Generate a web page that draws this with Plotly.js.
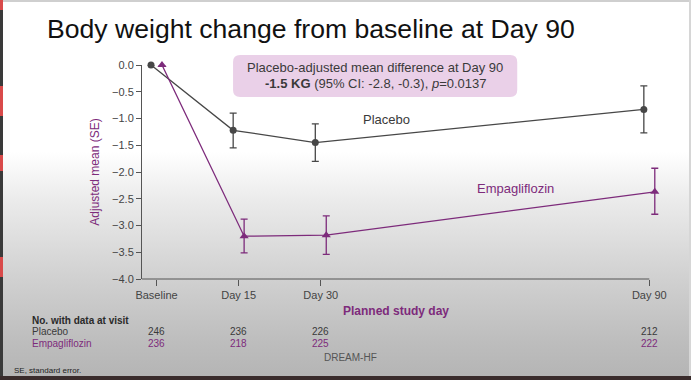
<!DOCTYPE html>
<html>
<head>
<meta charset="utf-8">
<script src="https://cdn.plot.ly/plotly-3.0.1.min.js"></script>
<style>
  html, body { margin:0; padding:0; }
  body { width:691px; height:380px; overflow:hidden; position:relative;
    background: linear-gradient(to bottom, #ffffff 0%, #ffffff 40%, #ececec 52%, #d2d2d2 72%, #bdbdbd 90%, #b4b4b4 100%); }
  #chart { position:absolute; left:0; top:0; width:691px; height:380px; }
  .edge { position:absolute; }
</style>
</head>
<body>
<div id="chart"></div>
<div class="edge" style="left:0;top:0;width:691px;height:2px;background:#cfcfcf"></div>
<div class="edge" style="left:0;top:0;width:3px;height:380px;background:#3a3a3a"></div>
<div class="edge" style="left:0;top:0;width:3px;height:10px;background:#d94a4a"></div>
<div class="edge" style="left:0;top:86px;width:3px;height:30px;background:#d94a4a"></div>
<div class="edge" style="left:0;top:155px;width:3px;height:16px;background:#d94a4a"></div>
<div class="edge" style="left:0;top:257px;width:3px;height:20px;background:#d94a4a"></div>
<div class="edge" style="left:689px;top:0;width:2px;height:380px;background:#d6d6d6"></div>
<div class="edge" style="left:0;top:376px;width:691px;height:4px;background:#3a2c2c"></div>
<script>
// ---- data ----
const days = [0, 15, 30, 90];
const tickLabels = ["Baseline", "Day 15", "Day 30", "Day 90"];
const seriesNames = ["Placebo", "Empagliflozin"];
const placeboMean  = [0, -1.22, -1.45, -0.83];
const placeboUpper = [0, -0.90, -1.10, -0.39];
const placeboLower = [0, -1.55, -1.80, -1.27];
const empaMean  = [0, -3.20, -3.18, -2.37];
const empaUpper = [0, -2.88, -2.82, -1.93];
const empaLower = [0, -3.51, -3.54, -2.79];
const placeboN = [246, 236, 226, 212];
const empaN    = [236, 218, 225, 222];

// ---- styling ----
const GRAY = '#474747';
const PURPLE = '#7d2b7b';
const OFFSET = 1.0;  // horizontal dodge in days
const FONT = 'Liberation Sans, Arial, sans-serif';

const XMIN = -2.65, XMAX = 92.5;          // axis range in days
const L = 142, T = 65, B = 279;
const PXPERDAY = (649 - 156.5) / 90;
const R = L + (XMAX - XMIN) * PXPERDAY;    // right edge of plot area in px
const px = v => (v - L) / (R - L);
const py = v => (B - v) / (B - T);

function trace(name, mean, up, lo, dodge, color, symbol, size) {
  return {
    type: 'scatter', mode: 'lines+markers', name: name,
    x: days.map(d => d + dodge), y: mean,
    line: {color: color, width: 1.3},
    marker: {color: color, symbol: symbol, size: size},
    error_y: {type: 'data', symmetric: false,
      array: up.map((u, i) => u - mean[i]),
      arrayminus: mean.map((m, i) => m - lo[i]),
      color: color, thickness: 1.3, width: 3.5},
    cliponaxis: false, showlegend: false, hoverinfo: 'skip'
  };
}

const data = [
  trace(seriesNames[0], placeboMean, placeboUpper, placeboLower, -OFFSET, GRAY, 'circle', 7),
  trace(seriesNames[1], empaMean, empaUpper, empaLower, OFFSET, PURPLE, 'triangle-up', 8)
];

const annotations = [];
function ann(text, x, y, opts) {
  annotations.push(Object.assign({text: text, x: x, y: y, xref: 'paper', yref: 'paper',
    showarrow: false, xanchor: 'center', yanchor: 'middle',
    font: {family: FONT, size: 11, color: '#333'}}, opts || {}));
}
// Title
ann('Body weight change from baseline at Day 90', px(45), py(29),
  {xanchor: 'left', font: {family: FONT, size: 26.6, color: '#111'}});
// box text
ann('Placebo-adjusted mean difference at Day 90', px(375), py(68), {font: {family: FONT, size: 13, color: '#3a3a3a'}});
ann('<b>-1.5 KG</b> (95% CI: -2.8, -0.3), <i>p</i>=0.0137', px(375), py(84), {font: {family: FONT, size: 13, color: '#3a3a3a'}});
// series labels
ann(seriesNames[0], px(361), py(119), {xanchor: 'left', font: {family: FONT, size: 13, color: '#3a3a3a'}});
ann(seriesNames[1], px(475), py(188), {xanchor: 'left', font: {family: FONT, size: 13, color: PURPLE}});
// x axis title (centred under the drawn axis line)
ann('<b>Planned study day</b>', px(396), py(310.5), {font: {family: FONT, size: 12, color: PURPLE}});
// table
ann('<b>No. with data at visit</b>', px(30), py(320), {xanchor: 'left', font: {family: FONT, size: 10, color: '#2a2a2a'}});
ann(seriesNames[0], px(30), py(331.5), {xanchor: 'left', font: {family: FONT, size: 10, color: '#3a3a3a'}});
ann(seriesNames[1], px(30), py(343), {xanchor: 'left', font: {family: FONT, size: 10, color: PURPLE}});
days.forEach((d, i) => {
  annotations.push({text: String(placeboN[i]), x: d, y: py(331.5), xref: 'x', yref: 'paper',
    showarrow: false, xanchor: 'center', yanchor: 'middle', font: {family: FONT, size: 10, color: '#3a3a3a'}});
  annotations.push({text: String(empaN[i]), x: d, y: py(343), xref: 'x', yref: 'paper',
    showarrow: false, xanchor: 'center', yanchor: 'middle', font: {family: FONT, size: 10, color: PURPLE}});
});
ann('DREAM-HF', px(350), py(357), {font: {family: FONT, size: 10, color: '#555'}});
ann('SE, standard error.', px(12), py(370), {xanchor: 'left', font: {family: FONT, size: 8, color: '#222'}});

// rounded pink box
function roundRect(x0, y0, x1, y1, r) {
  const X = px, Y = py;
  return `M ${X(x0 + r)} ${Y(y0)} L ${X(x1 - r)} ${Y(y0)} Q ${X(x1)} ${Y(y0)} ${X(x1)} ${Y(y0 + r)} ` +
    `L ${X(x1)} ${Y(y1 - r)} Q ${X(x1)} ${Y(y1)} ${X(x1 - r)} ${Y(y1)} L ${X(x0 + r)} ${Y(y1)} ` +
    `Q ${X(x0)} ${Y(y1)} ${X(x0)} ${Y(y1 - r)} L ${X(x0)} ${Y(y0 + r)} Q ${X(x0)} ${Y(y0)} ${X(x0 + r)} ${Y(y0)} Z`;
}
const shapes = [
  {type: 'path', xref: 'paper', yref: 'paper', path: roundRect(233, 55, 517, 97, 7),
    fillcolor: '#ead0e8', line: {width: 0}, layer: 'below'},
  // x axis line ending at the last visit
  {type: 'line', xref: 'x', yref: 'paper', x0: XMIN, x1: days[days.length - 1], y0: 0, y1: 0,
    line: {color: '#555', width: 1}}
];

const layout = {
  width: 691, height: 380,
  margin: {l: L, r: 691 - R, t: T, b: 380 - B},
  paper_bgcolor: 'rgba(0,0,0,0)', plot_bgcolor: 'rgba(0,0,0,0)',
  font: {family: FONT, color: '#444'},
  xaxis: {range: [XMIN, XMAX], tickvals: days, ticktext: tickLabels,
    showgrid: false, zeroline: false, showline: false,
    ticks: 'outside', ticklen: 6, tickcolor: '#555', tickfont: {size: 11, color: '#444'}},
  yaxis: {range: [-4, 0], dtick: 0.5, tickformat: '.1f',
    showgrid: false, zeroline: false, showline: true, linecolor: '#555', linewidth: 1,
    ticks: 'outside', ticklen: 5, tickcolor: '#555', tickfont: {size: 11, color: '#444'},
    title: {text: 'Adjusted mean (SE)', font: {size: 12, color: PURPLE}, standoff: 9}},
  annotations: annotations, shapes: shapes, showlegend: false
};

Plotly.newPlot('chart', data, layout, {staticPlot: true, displayModeBar: false});
</script>
</body>
</html>
